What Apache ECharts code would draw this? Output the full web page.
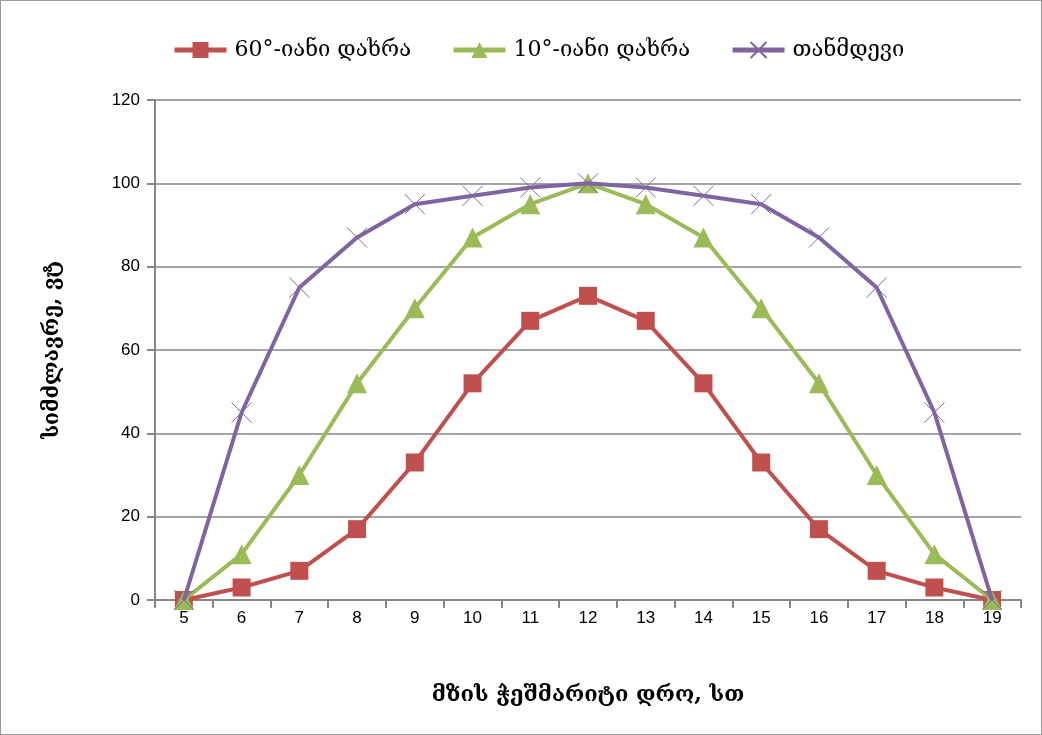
<!DOCTYPE html>
<html>
<head>
<meta charset="utf-8">
<script src="https://cdn.jsdelivr.net/npm/echarts@6/dist/echarts.min.js"></script>
<style>
  html, body { margin: 0; padding: 0; background: #fff; }
  #chart { width: 1042px; height: 735px; box-sizing: border-box; border: 1px solid #9a9a9a; }
</style>
</head>
<body>
<div id="chart"></div>
<script>
// Hours of true solar time
const hours = ['5', '6', '7', '8', '9', '10', '11', '12', '13', '14', '15', '16', '17', '18', '19'];
// Power output, W, per panel orientation
const tilt60 = [0, 3, 7, 17, 33, 52, 67, 73, 67, 52, 33, 17, 7, 3, 0];
const tilt10 = [0, 11, 30, 52, 70, 87, 95, 100, 95, 87, 70, 52, 30, 11, 0];
const tracking = [0, 45, 75, 87, 95, 97, 99, 100, 99, 97, 95, 87, 75, 45, 0];
const seriesNames = ['60°-იანი დახრა', '10°-იანი დახრა', 'თანმდევი'];
const xTitle = 'მზის ჭეშმარიტი დრო, სთ';
const yTitle = 'სიმძლავრე, ვტ';

const geoFont = '"DejaVu Serif", "DejaVu Sans", serif';
const numFont = '"Liberation Sans", Arial, sans-serif';
const crossPath = 'path://M0,0L10,10M10,0L0,10';

const chart = echarts.init(document.getElementById('chart'));
chart.setOption({
  animation: false,
  legend: {
    top: 33,
    left: 166,
    itemGap: 40,
    itemWidth: 52,
    itemHeight: 20,
    lineStyle: { width: 5 },
    textStyle: { fontFamily: geoFont, fontSize: 22, color: '#000', padding: [0, 0, 0, 3] },
    data: seriesNames
  },
  grid: { left: 154, right: 20, top: 99, bottom: 134, containLabel: false },
  xAxis: {
    type: 'category',
    data: hours,
    boundaryGap: true,
    name: xTitle,
    nameLocation: 'middle',
    nameGap: 84,
    nameTextStyle: { fontFamily: geoFont, fontSize: 22, color: '#000', fontWeight: 'bold' },
    axisLine: { lineStyle: { color: '#868686', width: 2 } },
    axisTick: { show: true, alignWithLabel: false, length: 8, lineStyle: { color: '#868686', width: 2 } },
    axisLabel: { fontFamily: numFont, fontSize: 17, color: '#000', margin: 10 }
  },
  yAxis: {
    type: 'value',
    min: 0,
    max: 120,
    interval: 20,
    name: yTitle,
    nameLocation: 'middle',
    nameGap: 92,
    nameTextStyle: { fontFamily: geoFont, fontSize: 21, color: '#000', fontWeight: 'bold' },
    axisLine: { show: true, lineStyle: { color: '#868686', width: 2 } },
    axisTick: { show: true, length: 8, inside: false, lineStyle: { color: '#868686', width: 2 } },
    axisLabel: { fontFamily: numFont, fontSize: 17, color: '#000', margin: 15 },
    splitLine: { lineStyle: { color: '#868686', width: 1.5 } }
  },
  series: [
    {
      name: seriesNames[0],
      type: 'line',
      data: tilt60,
      symbol: 'rect',
      symbolSize: 18,
      itemStyle: { color: '#c0504d' },
      lineStyle: { color: '#c0504d', width: 4 },
      z: 3
    },
    {
      name: seriesNames[1],
      type: 'line',
      data: tilt10,
      symbol: 'triangle',
      symbolSize: 20,
      itemStyle: { color: '#9bbb59' },
      lineStyle: { color: '#9bbb59', width: 4 },
      z: 4
    },
    {
      name: seriesNames[2],
      type: 'line',
      data: tracking,
      symbol: crossPath,
      symbolSize: 20,
      itemStyle: { color: 'none', borderColor: '#8064a2', borderWidth: 1 },
      lineStyle: { color: '#8064a2', width: 4 },
      z: 5
    }
  ]
});
</script>
</body>
</html>
